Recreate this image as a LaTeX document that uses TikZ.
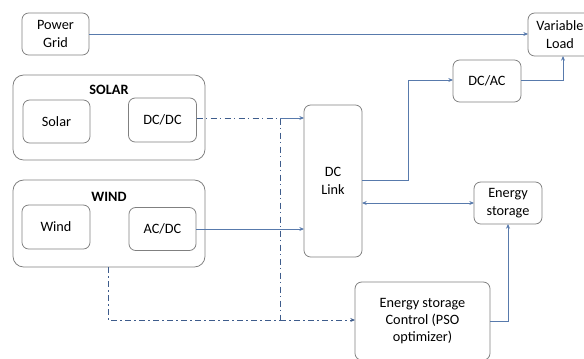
\documentclass[tikz,border=0pt]{standalone}
\usepackage{fontspec}
\setmainfont{Carlito}
\usetikzlibrary{arrows.meta}
\definecolor{wire}{RGB}{88,122,172}
\definecolor{ctrl}{RGB}{62,92,140}
\definecolor{frame}{RGB}{128,128,128}
\tikzset{
  blk/.style={draw=frame, line width=0.6pt, rounded corners=5pt, align=center, inner sep=0pt, outer sep=0pt},
  grp/.style={blk, rounded corners=8pt},
  pwr/.style={draw=wire, line width=0.6pt, -{Stealth[length=3.5pt,width=3pt]}},
  sig/.style={draw=ctrl, line width=0.7pt, dash pattern=on 4.5pt off 2.5pt on 1pt off 2.5pt}
}
\begin{document}
\begin{tikzpicture}[x=0.75pt, y=-0.75pt, font=\fontsize{10.7}{13}\selectfont]
\useasboundingbox (0,0) rectangle (584,358);

% sources
\node [blk, minimum width=50.25pt, minimum height=31.5pt] (grid) at (55.5,34) {Power\\Grid};
\node [grp, minimum width=144pt, minimum height=63.75pt] (solarbox) at (109,117.5) {};
\node [font=\fontsize{10.7}{13}\selectfont\bfseries] (solartitle) at (109,90) {SOLAR};
\node [blk, minimum width=50.25pt, minimum height=32.25pt] (solar) at (56.5,121.5) {Solar};
\node [blk, minimum width=51pt, minimum height=33pt] (dcdc) at (162.5,120) {DC/DC};
\node [grp, minimum width=144pt, minimum height=65.25pt] (windbox) at (109,223.5) {};
\node [font=\fontsize{10.7}{13}\selectfont\bfseries] (windtitle) at (109,197) {WIND};
\node [blk, minimum width=51pt, minimum height=33pt] (wind) at (56,227) {Wind};
\node [blk, minimum width=50.25pt, minimum height=32.25pt] (acdc) at (162.5,229) {AC/DC};

% link, converters and loads
\node [blk, minimum width=43.5pt, minimum height=114pt] (dclink) at (333,181) {DC\\Link};
\node [blk, minimum width=51pt, minimum height=31.5pt] (dcac) at (487,81) {DC/AC};
\node [blk, minimum width=48pt, minimum height=32.25pt] (load) at (560,34.5) {Variable\\Load};
\node [blk, minimum width=51pt, minimum height=31.5pt] (storage) at (508,203) {Energy\\storage};
\node [blk, minimum width=101.25pt, minimum height=58.5pt] (control) at (422.5,321) {Energy storage\\Control (PSO\\optimizer)};

\coordinate (tap) at (280,118);
\coordinate (bend) at (280,320);
\coordinate (wdrop) at (108,320);

% power flow
\draw [pwr] (grid.east) -- (grid.east -| load.west);
\draw [pwr] (tap) -- (tap -| dclink.west);
\draw [pwr] (acdc.east) -- (acdc.east -| dclink.west);
\draw [pwr] (dclink.east |- 0,180) -- (408,180) -- (408,80) -- (dcac.west |- 0,80);
\draw [pwr] (dcac.east |- 0,80) -- (563,80) -- (load.south -| 563,0);
\draw [pwr, {Stealth[length=3.5pt,width=3pt]}-{Stealth[length=3.5pt,width=3pt]}] (dclink.east |- storage.west) -- (storage.west);
\draw [pwr] (control.east |- 0,321) -- (508,321) -- (storage.south);

% control signals
\draw [sig] (dcdc.east |- tap) -- (tap) -- (bend);
\draw [sig] (windbox.south -| wdrop) -- (wdrop) -- (bend);
\draw [sig, -{Stealth[length=3.5pt,width=3pt]}] (bend) -- (control.west |- bend);
\end{tikzpicture}
\end{document}
